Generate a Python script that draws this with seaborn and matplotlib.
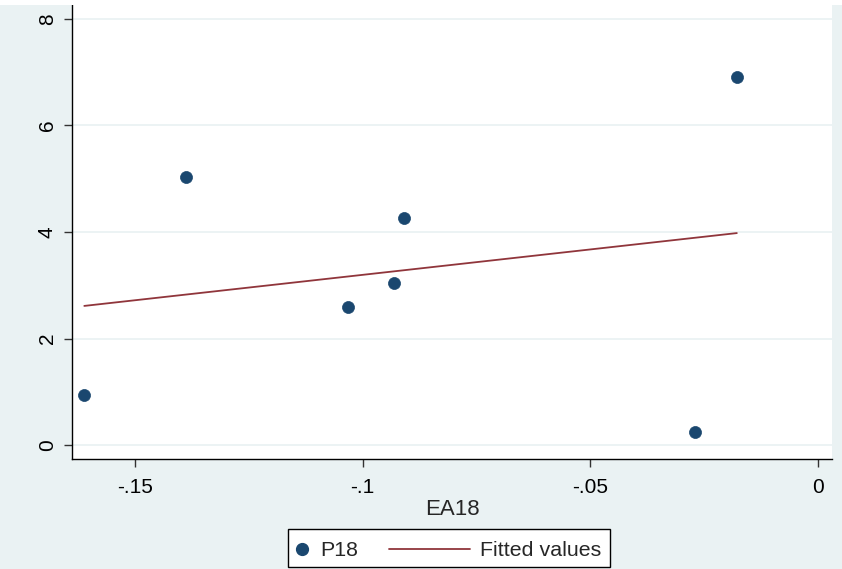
import matplotlib
matplotlib.use("Agg")
import matplotlib.pyplot as plt
import seaborn as sns
import numpy as np
import pandas as pd
from matplotlib.lines import Line2D

ea18 = [-0.1611, -0.1388, -0.1031, -0.0930, -0.0910, -0.0270, -0.0178]
p18 = [0.94, 5.03, 2.59, 3.05, 4.26, 0.25, 6.90]
xticks = [-0.15, -0.10, -0.05, 0.0]
xticklabels = ["-.15", "-.1", "-.05", "0"]
yticks = [0, 2, 4, 6, 8]
legend_labels = ["P18", "Fitted values"]

df = pd.DataFrame({"EA18": ea18, "P18": p18})

sns.set_theme(style="white")
plt.rcParams['font.family'] = ['Liberation Sans', 'DejaVu Sans']

bg = "#eaf2f3"
navy = "#1a476f"
red = "#90353b"

fig = plt.figure(figsize=(8.42, 5.69), dpi=100, facecolor=bg)
W, H = 842, 569
# thin white strip at the very top (cropped title area)
fig.patches.append(plt.Rectangle((0, 1 - 5 / H), 1, 5 / H, transform=fig.transFigure,
                                 facecolor="white", edgecolor="none", zorder=0))
ax = fig.add_axes([72 / W, 1 - 459 / H, (832 - 72) / W, (459 - 5) / H])
ax.set_facecolor("white")

# fitted line
coef = np.polyfit(df["EA18"], df["P18"], 1)
xs = np.array([df["EA18"].min(), df["EA18"].max()])
ax.plot(xs, np.polyval(coef, xs), color=red, lw=1.3, zorder=2)

sns.scatterplot(data=df, x="EA18", y="P18", ax=ax, color=navy, s=75,
                edgecolor=navy, linewidth=0.5, zorder=3, legend=False)

ax.set_xlim(-0.1638, 0.0031)
ax.set_ylim(-0.26, 8.26)
ax.set_xticks(xticks)
ax.set_xticklabels(xticklabels)
ax.set_yticks(yticks)
ax.set_yticklabels([str(v) for v in yticks], rotation=90, va="center")
for y in yticks:
    ax.axhline(y, color=bg, lw=1.3, zorder=1)

for s in ["top", "right"]:
    ax.spines[s].set_visible(False)
for s in ["left", "bottom"]:
    ax.spines[s].set_color("black")
    ax.spines[s].set_linewidth(1.0)
ax.tick_params(axis="both", which="major", direction="out", length=6, width=1.0,
               color="#333333", labelsize=15, labelcolor="black", bottom=True, left=True)
ax.tick_params(axis="x", pad=8)
ax.tick_params(axis="y", pad=5)
ax.set_xlabel("EA18", fontsize=16, labelpad=1)
ax.set_ylabel("")

# legend drawn in figure pixel space
def fx(px):
    return px / W

def fy(py):
    return 1 - py / H

fig.patches.append(plt.Rectangle((fx(288), fy(567)), fx(610) - fx(288), fy(529) - fy(567),
                                 transform=fig.transFigure, facecolor="white",
                                 edgecolor="black", lw=1.0, zorder=5))
fig.add_artist(Line2D([fx(302)], [fy(549)], marker="o", linestyle="none", color=navy,
                      markersize=8.5, transform=fig.transFigure, zorder=6))
fig.text(fx(320), fy(550), legend_labels[0], fontsize=15.4, va="center", ha="left", zorder=6)
fig.add_artist(Line2D([fx(389), fx(470)], [fy(549), fy(549)], color=red, lw=1.3,
                      transform=fig.transFigure, zorder=6))
fig.text(fx(480), fy(550), legend_labels[1], fontsize=15.4, va="center", ha="left", zorder=6)

fig.savefig("out.png", dpi=100, facecolor=bg)
